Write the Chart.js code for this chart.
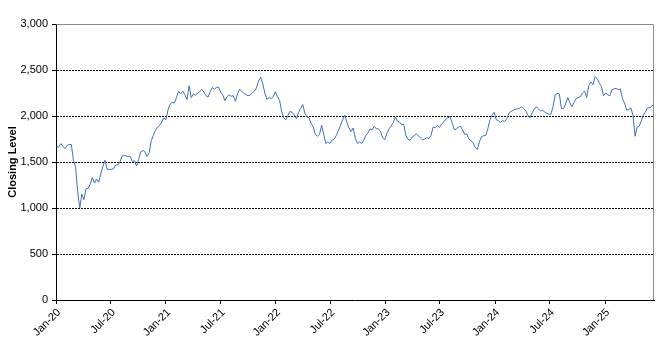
<!DOCTYPE html>
<html>
<head>
<meta charset="utf-8">
<script src="https://cdn.jsdelivr.net/npm/chart.js"></script>
<style>
  html, body { margin: 0; padding: 0; background: #fff; }
  #wrap { width: 671px; height: 347px; }
</style>
</head>
<body>
<div id="wrap"><canvas id="closeChart" width="671" height="347"></canvas></div>
<script>
// weekly closes, first one on 3 Jan 2020
const weeklyClose = [
  1665, 1665, 1700, 1670, 1645, 1680, 1690, 1690, 1520, 1450,
  1180, 1000, 1150, 1090, 1210, 1215, 1260, 1330, 1270, 1315,
  1280, 1370, 1450, 1520, 1420, 1420, 1420, 1425, 1465, 1470,
  1490, 1560, 1575, 1565, 1560, 1560, 1505, 1515, 1455, 1530,
  1610, 1625, 1610, 1560, 1600, 1730, 1790, 1845, 1880, 1900,
  1935, 1980, 1960, 2070, 2130, 2150, 2140, 2200, 2270, 2240,
  2270, 2230, 2180, 2330, 2200, 2240, 2225, 2250, 2265, 2290,
  2260, 2220, 2205, 2265, 2310, 2290, 2310, 2315, 2260, 2230,
  2165, 2210, 2230, 2215, 2220, 2160, 2240, 2290, 2270, 2245,
  2235, 2220, 2228, 2250, 2270, 2305, 2380, 2420, 2350, 2250,
  2180, 2200, 2190, 2210, 2265, 2210, 2170, 2050, 1980, 1960,
  2010, 2050, 2040, 2010, 1970, 2040, 2080, 2125, 2030, 1990,
  1980, 1920, 1880, 1800, 1780, 1800, 1900, 1800, 1700, 1720,
  1700, 1740, 1750, 1790, 1845, 1900, 1960, 2010, 1930, 1870,
  1830, 1870, 1760, 1700, 1720, 1700, 1735, 1790, 1815, 1860,
  1850, 1890, 1860, 1860, 1830, 1765, 1740, 1810, 1860, 1890,
  1925, 1990, 1945, 1935, 1905, 1910, 1790, 1750, 1735, 1770,
  1785, 1805, 1785, 1760, 1740, 1750, 1765, 1755, 1790, 1880,
  1875, 1895, 1875, 1910, 1935, 1965, 1980, 1993, 1930, 1855,
  1855, 1880, 1885, 1850, 1800, 1805, 1750, 1730, 1710, 1660,
  1635, 1720, 1775, 1785, 1790, 1860, 1960, 2010, 2040, 1960,
  1950, 1930, 1950, 1940, 1970, 2030, 2050, 2060, 2075, 2075,
  2085, 2100, 2080, 2060, 2010, 1980, 2030, 2070, 2100, 2080,
  2055, 2060, 2045, 2030, 2020, 2020, 2100, 2230, 2245, 2240,
  2080, 2080, 2130, 2200, 2145, 2100, 2150, 2190, 2200, 2210,
  2250, 2270, 2200, 2330, 2370, 2340, 2428, 2405, 2360, 2320,
  2220, 2250, 2230, 2220, 2285, 2295, 2300, 2285, 2295, 2190,
  2140, 2065, 2070, 2090, 2010, 1780, 1880, 1890, 1950, 2010,
  2050, 2090, 2090, 2110, 2125
];

// x axis runs in days counted from 1 Jan 2020
const firstDay = 2;
const stepDays = 7;
const lastDay = 1990;
const tickDays = [0, 182, 366, 547, 731, 912, 1096, 1277, 1461, 1643, 1827];
const tickLabels = ["Jan-20", "Jul-20", "Jan-21", "Jul-21", "Jan-22", "Jul-22",
  "Jan-23", "Jul-23", "Jan-24", "Jul-24", "Jan-25"];
const yMax = 3000;
const yStep = 500;

const points = weeklyClose.map((v, i) => ({ x: firstDay + i * stepDays, y: v }));

// grey frame on the top and right of the plot area
const plotFrame = {
  id: "plotFrame",
  afterDraw(chart) {
    const { ctx, chartArea: a } = chart;
    ctx.save();
    ctx.strokeStyle = "#8c8c8c";
    ctx.lineWidth = 1;
    ctx.beginPath();
    ctx.moveTo(Math.round(a.left) + 0.5, Math.round(a.top) + 0.5);
    ctx.lineTo(Math.round(a.right) - 0.5, Math.round(a.top) + 0.5);
    ctx.lineTo(Math.round(a.right) - 0.5, Math.round(a.bottom));
    ctx.stroke();
    ctx.restore();
  },
};

const font = { family: "'Liberation Sans', Arial, sans-serif", size: 11 };

new Chart(document.getElementById("closeChart"), {
  type: "line",
  data: {
    datasets: [
      {
        label: "Closing Level",
        data: points,
        borderColor: "#3f70bd",
        borderWidth: 1,
        pointRadius: 0,
        tension: 0,
        fill: false,
      },
    ],
  },
  options: {
    responsive: false,
    animation: false,
    devicePixelRatio: 1,
    layout: { padding: { top: 24, right: 17, left: 0, bottom: 0 } },
    plugins: {
      legend: { display: false },
      tooltip: { enabled: false },
    },
    scales: {
      x: {
        type: "linear",
        min: 0,
        max: lastDay,
        afterBuildTicks: (scale) => {
          scale.ticks = tickDays.map((d) => ({ value: d }));
        },
        afterFit: (scale) => {
          scale.height = 47;
        },
        ticks: {
          autoSkip: false,
          minRotation: 45,
          maxRotation: 45,
          padding: 2,
          labelOffset: 3,
          color: "#000",
          font: font,
          callback: (value, index) => tickLabels[index],
        },
        grid: {
          drawOnChartArea: false,
          drawTicks: true,
          tickLength: 4,
          tickColor: "#000",
        },
        border: { color: "#000", width: 1 },
      },
      y: {
        min: 0,
        max: yMax,
        afterFit: (scale) => {
          scale.width = 56;
        },
        ticks: {
          stepSize: yStep,
          padding: 4,
          color: "#000",
          font: font,
          callback: (v) => v.toLocaleString("en-US"),
        },
        title: {
          display: true,
          text: "Closing Level",
          color: "#000",
          font: { family: font.family, size: 11, weight: "bold" },
          padding: { top: 6, bottom: 0 },
        },
        grid: {
          color: (ctx) =>
            ctx.tick && (ctx.tick.value === 0 || ctx.tick.value === yMax)
              ? "rgba(0,0,0,0)"
              : "#000",
          lineWidth: 1,
          drawTicks: true,
          tickLength: 4,
          tickColor: "#000",
          tickBorderDash: [],
        },
        border: { color: "#000", width: 1, dash: [2, 1] },
      },
    },
  },
  plugins: [plotFrame],
});
</script>
</body>
</html>
